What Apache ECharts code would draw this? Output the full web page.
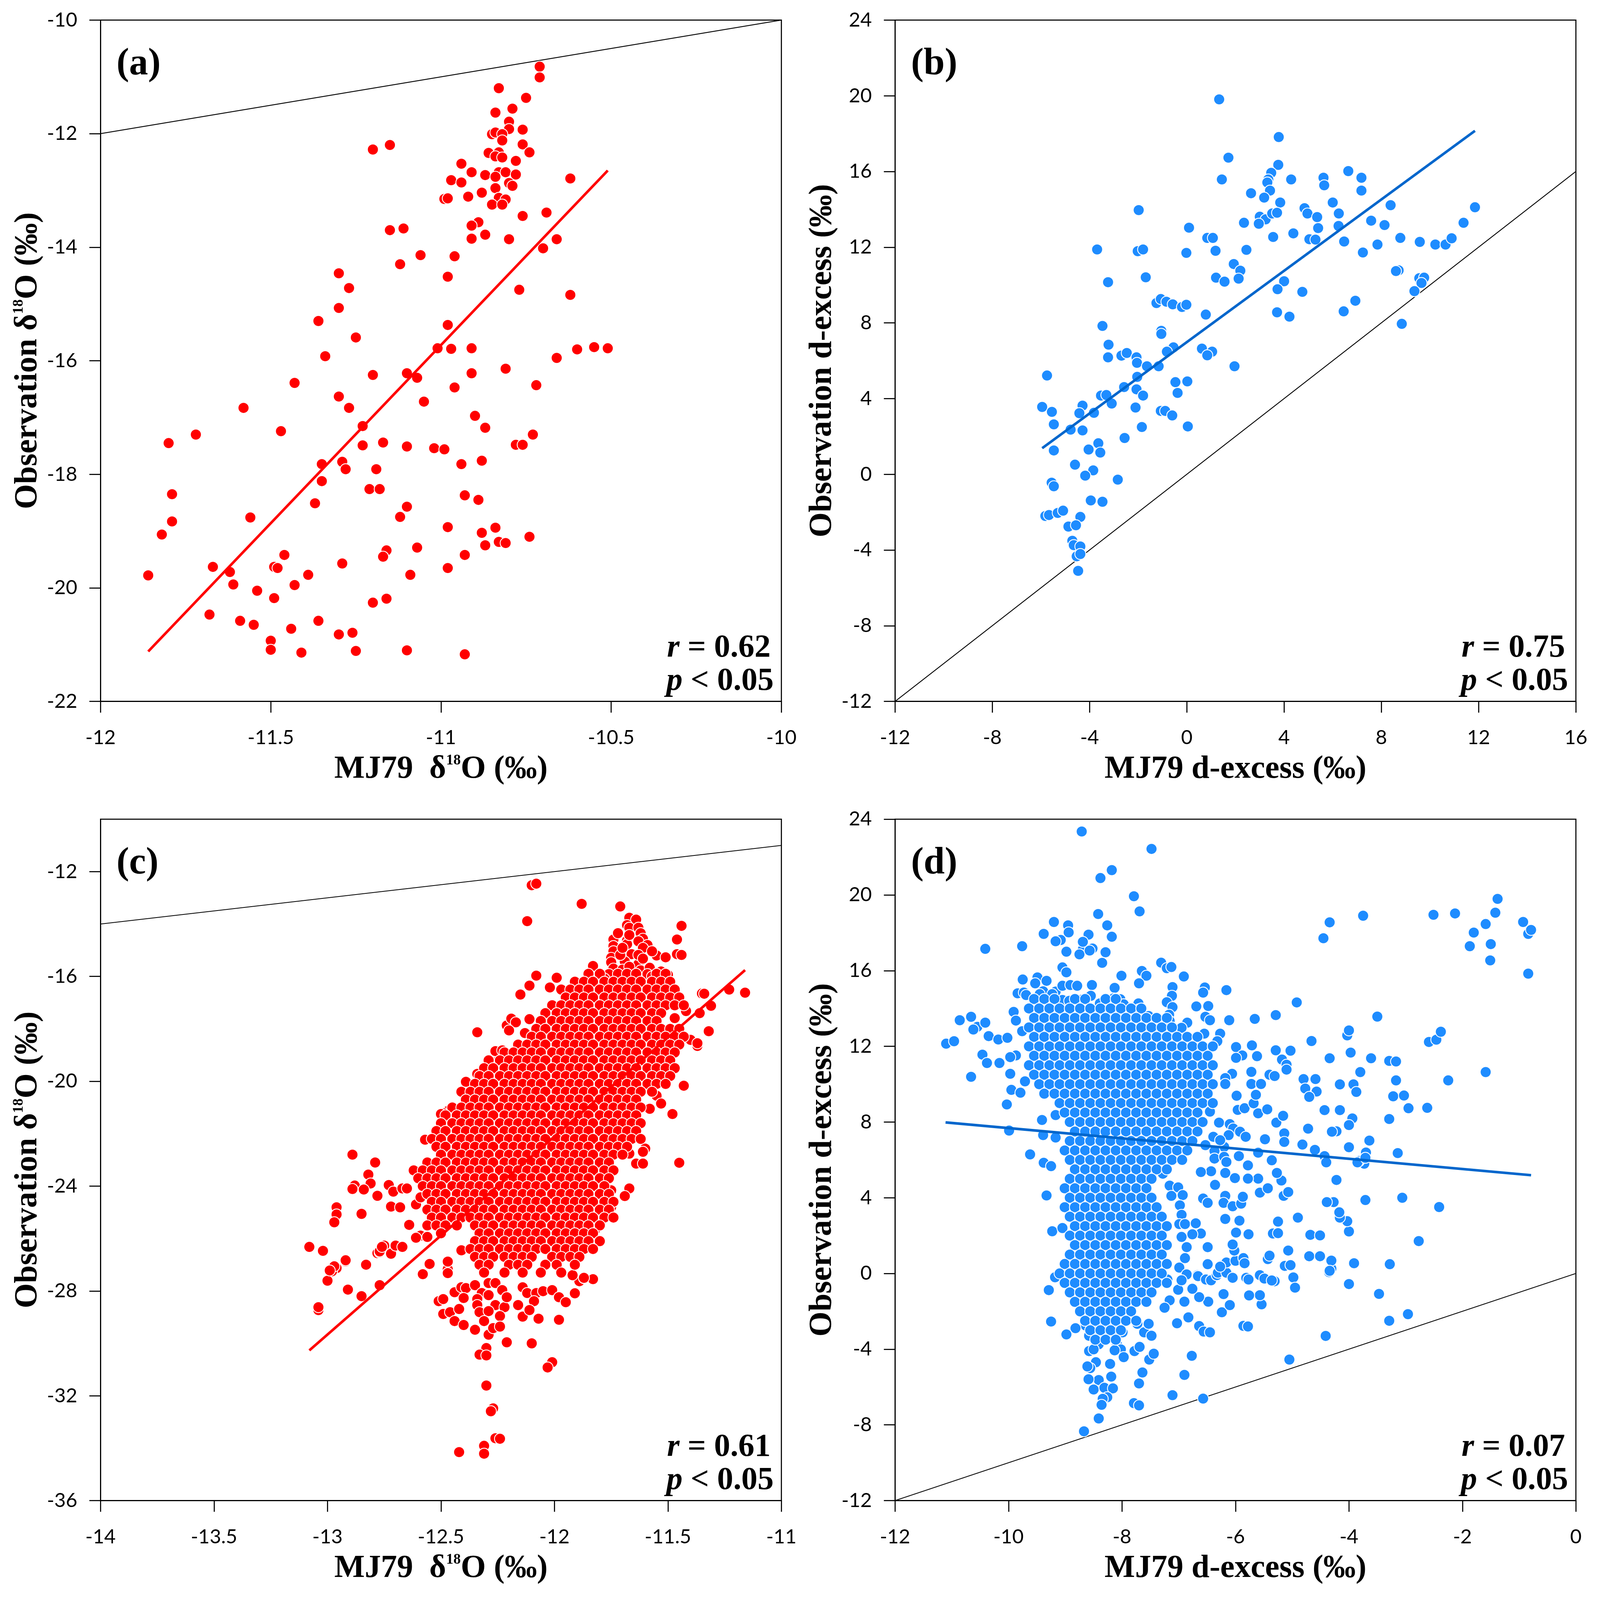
<!DOCTYPE html>
<html><head><meta charset="utf-8">
<script src="https://cdn.jsdelivr.net/npm/echarts@6.0.0/dist/echarts.min.js"></script>
<style>html,body{margin:0;padding:0;background:#fff;overflow:hidden}#main{width:100vw;height:100vh}</style>
</head><body><div id="main"></div>
<script>
// ---------- Panel (a): MJ79 d18O vs observation d18O ----------
const aPts = [[-10.71,-10.82],[-10.71,-11.01],[-10.83,-11.20],[-10.75,-11.37],[-10.79,-11.56],[-10.84,-11.63],[-10.80,-11.79],[-10.80,-11.92],[-10.76,-11.93],[-10.85,-12.01],[-10.84,-11.98],[-10.82,-12.01],[-10.82,-12.12],[-10.76,-12.19],[-10.86,-12.34],[-10.83,-12.33],[-10.84,-12.40],[-10.82,-12.42],[-10.74,-12.33],[-10.78,-12.48],[-10.94,-12.53],[-10.91,-12.68],[-10.87,-12.73],[-10.83,-12.68],[-10.81,-12.68],[-10.78,-12.72],[-10.84,-12.76],[-10.97,-12.82],[-10.94,-12.86],[-10.62,-12.79],[-10.84,-12.96],[-10.80,-12.87],[-10.79,-12.92],[-10.88,-13.04],[-10.92,-13.11],[-10.99,-13.15],[-10.98,-13.14],[-10.83,-13.13],[-10.81,-13.16],[-10.85,-13.25],[-10.82,-13.25],[-10.76,-13.45],[-10.69,-13.39],[-10.89,-13.56],[-10.91,-13.62],[-10.87,-13.78],[-10.91,-13.85],[-10.80,-13.86],[-10.66,-13.86],[-10.70,-14.02],[-11.20,-12.28],[-11.15,-12.20],[-11.15,-13.70],[-11.11,-13.67],[-11.06,-14.14],[-10.96,-14.16],[-11.12,-14.30],[-10.98,-14.52],[-11.30,-14.46],[-11.27,-14.72],[-10.77,-14.75],[-10.62,-14.84],[-11.30,-15.07],[-11.36,-15.30],[-10.98,-15.37],[-11.25,-15.59],[-11.01,-15.78],[-10.97,-15.79],[-10.91,-15.78],[-10.60,-15.80],[-10.55,-15.76],[-10.51,-15.78],[-11.34,-15.92],[-10.66,-15.95],[-10.81,-16.14],[-11.20,-16.25],[-11.10,-16.22],[-11.07,-16.30],[-10.91,-16.22],[-11.43,-16.39],[-10.96,-16.47],[-10.72,-16.43],[-11.30,-16.63],[-11.05,-16.72],[-11.58,-16.83],[-11.27,-16.83],[-10.90,-16.97],[-10.87,-17.18],[-11.23,-17.15],[-11.72,-17.30],[-11.47,-17.24],[-11.80,-17.45],[-11.23,-17.49],[-11.17,-17.44],[-11.10,-17.51],[-11.02,-17.54],[-10.99,-17.56],[-10.78,-17.48],[-10.76,-17.48],[-10.73,-17.30],[-10.88,-17.76],[-10.94,-17.82],[-11.35,-17.82],[-11.29,-17.78],[-11.28,-17.91],[-11.19,-17.91],[-11.35,-18.12],[-11.79,-18.35],[-11.21,-18.26],[-11.18,-18.26],[-10.93,-18.37],[-10.89,-18.45],[-11.37,-18.51],[-11.10,-18.57],[-11.56,-18.76],[-11.12,-18.75],[-11.79,-18.83],[-11.82,-19.06],[-10.98,-18.93],[-10.88,-19.03],[-10.84,-18.94],[-10.83,-19.19],[-10.81,-19.21],[-10.87,-19.25],[-10.74,-19.10],[-11.46,-19.42],[-11.16,-19.34],[-11.17,-19.45],[-11.07,-19.29],[-10.93,-19.42],[-11.67,-19.63],[-11.62,-19.72],[-11.49,-19.63],[-11.48,-19.65],[-11.29,-19.57],[-11.86,-19.78],[-11.39,-19.77],[-11.09,-19.77],[-10.98,-19.65],[-11.61,-19.94],[-11.43,-19.95],[-11.54,-20.05],[-11.49,-20.18],[-11.16,-20.19],[-11.20,-20.26],[-11.68,-20.47],[-11.59,-20.58],[-11.55,-20.65],[-11.36,-20.58],[-11.44,-20.72],[-11.30,-20.82],[-11.26,-20.79],[-11.50,-20.93],[-11.50,-21.09],[-11.41,-21.14],[-11.25,-21.11],[-11.10,-21.10],[-10.93,-21.17]];
const aFit = [[-11.86,-21.12],[-10.51,-12.65]];
const aOne = [[-12,-12],[-10,-10]];

// ---------- Panel (b): d-excess ----------
const bPts = [[1.33,19.81],[3.78,17.82],[1.71,16.73],[3.76,16.35],[1.44,15.58],[3.47,15.93],[3.35,15.58],[3.31,15.42],[3.42,14.99],[4.29,15.58],[5.62,15.67],[5.65,15.27],[6.64,16.02],[7.18,15.67],[7.18,14.99],[2.64,14.85],[3.18,14.62],[3.84,14.36],[6.00,14.36],[4.84,14.06],[4.96,13.78],[5.36,13.59],[6.25,13.78],[8.38,14.22],[11.85,14.11],[3.00,13.61],[3.24,13.47],[2.96,13.24],[3.51,13.78],[3.71,13.82],[2.35,13.29],[5.40,13.01],[6.24,13.12],[7.58,13.40],[8.13,13.17],[11.38,13.29],[-1.98,13.96],[0.09,13.03],[3.55,12.54],[4.38,12.73],[5.04,12.42],[5.29,12.40],[6.47,12.30],[7.24,11.72],[7.84,12.14],[8.78,12.49],[9.58,12.28],[10.22,12.14],[10.64,12.14],[10.89,12.47],[0.84,12.49],[1.07,12.49],[1.18,11.81],[2.45,11.86],[-3.69,11.88],[-2.02,11.79],[-1.80,11.88],[-0.02,11.70],[1.93,11.11],[2.20,10.76],[2.13,10.34],[1.20,10.39],[1.55,10.18],[-1.69,10.41],[-3.24,10.15],[8.71,10.78],[8.60,10.74],[9.56,10.36],[9.76,10.39],[9.65,10.11],[4.00,10.20],[3.73,9.78],[4.75,9.64],[9.36,9.68],[6.93,9.17],[6.45,8.61],[3.71,8.56],[4.22,8.33],[8.84,7.95],[-1.25,9.05],[-1.07,9.26],[-0.84,9.12],[-0.58,8.98],[-0.20,8.84],[-0.02,8.96],[0.78,8.44],[-3.47,7.84],[-1.05,7.58],[-1.05,7.42],[-3.22,6.85],[-0.55,6.71],[-0.82,6.48],[0.62,6.64],[1.04,6.48],[0.84,6.29],[-3.24,6.18],[-2.69,6.27],[-2.47,6.41],[-2.07,6.18],[-2.05,5.89],[-1.64,5.71],[-1.16,5.71],[1.96,5.71],[-5.75,5.22],[-2.04,5.15],[-2.58,4.61],[-2.07,4.49],[-0.47,4.87],[0.02,4.91],[-0.38,4.30],[-3.53,4.16],[-3.31,4.19],[-1.80,4.16],[-3.09,3.74],[-5.95,3.56],[-5.55,3.30],[-4.29,3.63],[-4.42,3.23],[-3.82,3.25],[-2.11,3.53],[-1.07,3.35],[-0.89,3.35],[-0.60,3.11],[-5.47,2.64],[-4.78,2.36],[-4.29,2.32],[-1.85,2.50],[0.04,2.53],[-2.56,1.92],[-3.64,1.64],[-5.47,1.26],[-4.04,1.31],[-3.56,1.15],[-4.60,0.51],[-3.85,0.21],[-4.18,-0.07],[-2.84,-0.28],[-5.56,-0.44],[-5.47,-0.63],[-3.95,-1.38],[-3.47,-1.45],[-5.82,-2.20],[-5.67,-2.15],[-5.31,-2.04],[-5.09,-1.92],[-4.38,-2.25],[-4.87,-2.76],[-4.56,-2.69],[-4.71,-3.51],[-4.65,-3.74],[-4.38,-3.81],[-4.53,-4.33],[-4.38,-4.21],[-4.47,-5.10]];
const bFit = [[-5.95,1.38],[11.85,18.15]];
const bOne = [[-12,-12],[16,16]];

// ---------- Panel (c): d18O, individual points ----------
const cPts = [[-12.10,-12.52],[-12.08,-12.46],[-11.88,-13.23],[-11.71,-13.33],[-12.12,-13.89],
[-11.67,-13.76],[-11.64,-13.83],[-11.68,-14.04],[-11.67,-14.14],[-11.63,-14.14],[-11.62,-14.35],[-11.61,-14.56],[-11.74,-14.59],[-11.68,-14.63],[-11.63,-14.66],[-11.59,-14.80],[-11.68,-14.77],[-11.74,-14.84],[-11.61,-14.91],[-11.74,-15.04],[-11.66,-15.15],[-11.75,-15.29],[-11.69,-15.43],[-11.55,-15.20],[-11.51,-15.27],[-11.75,-15.46],[-11.63,-15.53],[-11.74,-15.70],[-11.70,-15.74],[-11.62,-15.77],[-11.58,-15.67],[-11.59,-15.91],[-11.53,-15.81],[-11.50,-15.94],[-11.56,-16.26],[-11.63,-16.15],[-11.56,-15.98],[-11.67,-16.05],[-11.72,-15.95],[-11.76,-15.91],[-11.68,-16.29],[-11.74,-16.43],[-11.79,-16.46],[-11.84,-16.53],[-11.80,-16.22],[-11.78,-16.08],
[-11.72,-14.35],[-11.67,-14.42],[-11.57,-15.04],[-11.63,-15.18],[-11.71,-15.18],[-11.67,-15.63],[-11.61,-15.32],[-11.70,-14.91],[-11.55,-16.15],[-11.61,-16.36],[-11.65,-16.50],[-11.70,-16.57],[-11.58,-16.53],[-11.52,-16.36],[-11.49,-16.57],[-11.53,-16.91],
[-11.44,-14.07],[-11.46,-14.59],[-11.46,-15.15],[-11.44,-15.18],[-11.35,-16.65],[-11.23,-16.50],[-11.16,-16.62],[-11.31,-17.12],[-11.36,-17.40],[-11.32,-18.11],[-11.47,-17.59],[-11.43,-20.17],[-11.37,-18.65],[-11.40,-18.42],[-11.45,-18.20],[-11.42,-17.32],[-11.34,-16.66],[-11.32,-18.09],[-11.37,-18.55],[-11.48,-21.25],[-11.45,-23.11],[-11.60,-22.57],[-11.61,-22.69],[-11.67,-24.09],[-11.69,-24.38],[-11.64,-23.14],[-11.61,-23.14],[-11.67,-22.76],[-11.57,-16.00],[-11.51,-16.10],[-11.59,-16.32],[-11.55,-20.55],[-11.53,-20.85],[-11.58,-21.05],
[-12.34,-18.13],[-12.21,-17.87],[-12.19,-17.61],[-12.17,-17.75],[-12.20,-18.06],[-12.11,-17.63],[-12.13,-18.16],[-12.08,-18.22],[-12.07,-18.01],[-12.08,-15.97],[-11.99,-16.05],[-12.11,-16.35],[-12.02,-16.42],[-12.15,-16.69],[-11.83,-15.60],[-12.39,-20.02],[-12.34,-19.72],[-12.31,-19.86],[-12.34,-20.24],[-12.26,-18.85],[-12.23,-18.82],[-12.26,-19.28],[-12.47,-21.14],[-12.49,-21.22],[-12.44,-21.49],[-12.38,-21.24],[-12.50,-21.25],[-12.57,-22.23],
[-12.89,-22.80],[-12.79,-23.10],[-12.82,-23.56],[-12.81,-23.90],[-12.88,-23.98],[-12.89,-24.11],[-12.84,-24.13],[-12.78,-24.37],[-12.73,-23.96],[-12.71,-24.21],[-12.67,-24.09],[-12.65,-24.09],[-12.96,-24.81],[-12.96,-25.08],[-12.97,-25.38],[-12.85,-25.06],[-12.72,-24.78],[-12.68,-24.81],[-12.64,-25.48],[-13.08,-26.32],[-13.02,-26.47],[-12.92,-26.87],[-12.96,-27.13],[-12.98,-27.25],[-13.00,-27.61],[-12.83,-27.00],[-12.91,-27.95],[-12.85,-28.20],[-12.77,-27.78],[-12.78,-26.56],[-12.77,-26.53],[-12.75,-26.27],[-12.72,-26.58],[-12.70,-26.27],[-12.67,-26.32],[-13.04,-28.73],[-13.04,-28.62],[-12.61,-24.70],[-12.59,-24.43],[-12.59,-25.89],[-12.56,-25.94],[-12.61,-25.97],[-12.55,-26.97],[-12.58,-27.36],[-12.47,-26.91],[-12.47,-27.17],[-12.47,-27.32],[-12.41,-26.45],[-12.92,-26.83],[-12.97,-27.06],[-12.99,-27.22],[-12.77,-26.49],[-12.76,-26.32],[-12.47,-26.88],
[-12.44,-28.05],[-12.41,-27.86],[-12.39,-27.89],[-12.35,-27.78],[-12.32,-28.08],[-12.29,-27.70],[-12.26,-27.70],[-12.23,-27.97],[-12.14,-27.86],[-12.12,-28.08],[-12.08,-28.08],[-12.05,-28.01],[-12.01,-27.97],[-11.91,-28.12],[-11.89,-27.63],[-11.87,-27.51],[-11.83,-27.55],[-11.92,-27.40],[-12.51,-28.39],[-12.49,-28.31],[-12.40,-28.27],[-12.34,-28.31],[-12.34,-28.54],[-12.29,-28.16],[-12.26,-28.54],[-12.22,-28.62],[-12.21,-28.24],[-12.16,-28.54],[-12.09,-28.39],[-11.98,-28.24],[-11.95,-28.43],[-12.49,-28.88],[-12.46,-28.81],[-12.42,-28.69],[-12.33,-28.81],[-12.29,-28.77],[-12.24,-28.96],[-12.14,-28.98],[-12.11,-28.73],[-12.07,-29.06],[-11.98,-29.10],[-12.44,-29.15],[-12.40,-29.30],[-12.35,-29.48],[-12.31,-29.15],[-12.29,-29.67],[-12.27,-29.42],[-12.24,-29.36],[-12.21,-29.96],[-12.10,-30.00],[-12.30,-30.18],[-12.33,-30.43],[-12.30,-30.46],[-12.01,-30.72],[-12.03,-30.92],[-12.30,-31.61],[-12.27,-32.48],[-12.28,-32.59],[-12.26,-33.62],[-12.24,-33.64],[-12.31,-33.91],[-12.31,-34.21],[-12.42,-34.15],
[-11.91,-28.09],[-11.87,-27.50],[-11.82,-25.65],[-11.76,-25.05],[-11.75,-24.80],[-11.75,-24.16]];
// Panel (c) saturated core, read row by row: [y, [x values along the row]]
const cRows = [
[-15.9,[-11.85,-11.80,-11.72,-11.68,-11.64,-11.55,-11.51]],
[-16.2,[-11.91,-11.87,-11.83,-11.78,-11.74,-11.70,-11.66,-11.62,-11.57,-11.53,-11.49]],
[-16.5,[-11.97,-11.93,-11.89,-11.85,-11.80,-11.76,-11.72,-11.68,-11.64,-11.59,-11.55,-11.51,-11.47]],
[-16.8,[-11.95,-11.91,-11.87,-11.83,-11.78,-11.74,-11.70,-11.66,-11.62,-11.57,-11.53,-11.49,-11.45]],
[-17.1,[-12.01,-11.97,-11.93,-11.89,-11.85,-11.80,-11.76,-11.72,-11.68,-11.64,-11.59,-11.55,-11.51,-11.47,-11.43]],
[-17.4,[-12.04,-11.99,-11.95,-11.91,-11.87,-11.83,-11.78,-11.74,-11.70,-11.66,-11.62,-11.57,-11.53]],
[-17.7,[-12.06,-12.01,-11.97,-11.93,-11.89,-11.85,-11.80,-11.76,-11.72,-11.68,-11.64,-11.59,-11.55]],
[-18.0,[-12.08,-12.04,-11.99,-11.95,-11.91,-11.87,-11.83,-11.78,-11.74,-11.70,-11.66,-11.62,-11.57,-11.53,-11.49,-11.45]],
[-18.3,[-12.10,-12.06,-12.01,-11.97,-11.93,-11.89,-11.85,-11.80,-11.76,-11.72,-11.68,-11.64,-11.59,-11.55,-11.51,-11.47,-11.43]],
[-18.6,[-12.16,-12.12,-12.08,-12.04,-11.99,-11.95,-11.91,-11.87,-11.83,-11.78,-11.74,-11.70,-11.66,-11.62,-11.57,-11.53,-11.49,-11.45]],
[-18.9,[-12.22,-12.18,-12.14,-12.10,-12.06,-12.01,-11.97,-11.93,-11.89,-11.85,-11.80,-11.76,-11.72,-11.68,-11.64,-11.59,-11.55,-11.51,-11.47]],
[-19.2,[-12.29,-12.24,-12.20,-12.16,-12.12,-12.08,-12.04,-11.99,-11.95,-11.91,-11.87,-11.83,-11.78,-11.74,-11.70,-11.66,-11.62,-11.57,-11.53,-11.49]],
[-19.5,[-12.31,-12.27,-12.22,-12.18,-12.14,-12.10,-12.06,-12.01,-11.97,-11.93,-11.89,-11.85,-11.80,-11.76,-11.72,-11.68,-11.64,-11.59,-11.55,-11.51,-11.47]],
[-19.8,[-12.33,-12.29,-12.24,-12.20,-12.16,-12.12,-12.08,-12.04,-11.99,-11.95,-11.91,-11.87,-11.83,-11.78,-11.74,-11.70,-11.66,-11.62,-11.57,-11.53,-11.49]],
[-20.1,[-12.35,-12.31,-12.27,-12.22,-12.18,-12.14,-12.10,-12.06,-12.01,-11.97,-11.93,-11.89,-11.85,-11.80,-11.76,-11.72,-11.68,-11.64,-11.59,-11.55,-11.51]],
[-20.4,[-12.41,-12.37,-12.33,-12.29,-12.24,-12.20,-12.16,-12.12,-12.08,-12.04,-11.99,-11.95,-11.91,-11.87,-11.83,-11.78,-11.74,-11.70,-11.66,-11.62,-11.57]],
[-20.7,[-12.39,-12.35,-12.31,-12.27,-12.22,-12.18,-12.14,-12.10,-12.06,-12.01,-11.97,-11.93,-11.89,-11.85,-11.80,-11.76,-11.72,-11.68,-11.64]],
[-21.0,[-12.45,-12.41,-12.37,-12.33,-12.29,-12.24,-12.20,-12.16,-12.12,-12.08,-12.04,-11.99,-11.95,-11.91,-11.87,-11.83,-11.78,-11.74,-11.70,-11.66,-11.62]],
[-21.3,[-12.48,-12.43,-12.39,-12.35,-12.31,-12.27,-12.22,-12.18,-12.14,-12.10,-12.06,-12.01,-11.97,-11.93,-11.89,-11.85,-11.80,-11.76,-11.72,-11.68,-11.64]],
[-21.6,[-12.50,-12.45,-12.41,-12.37,-12.33,-12.29,-12.24,-12.20,-12.16,-12.12,-12.08,-12.04,-11.99,-11.95,-11.91,-11.87,-11.83,-11.78,-11.74,-11.70,-11.66,-11.62]],
[-21.9,[-12.52,-12.48,-12.43,-12.39,-12.35,-12.31,-12.27,-12.22,-12.18,-12.14,-12.10,-12.06,-12.01,-11.97,-11.93,-11.89,-11.85,-11.80,-11.76,-11.72,-11.68,-11.64]],
[-22.2,[-12.54,-12.50,-12.45,-12.41,-12.37,-12.33,-12.29,-12.24,-12.20,-12.16,-12.12,-12.08,-12.04,-11.99,-11.95,-11.91,-11.87,-11.83,-11.78,-11.74,-11.70,-11.66,-11.62]],
[-22.5,[-12.52,-12.48,-12.43,-12.39,-12.35,-12.31,-12.27,-12.22,-12.18,-12.14,-12.10,-12.06,-12.01,-11.97,-11.93,-11.89,-11.85,-11.80,-11.76,-11.72,-11.68]],
[-22.8,[-12.50,-12.45,-12.41,-12.37,-12.33,-12.29,-12.24,-12.20,-12.16,-12.12,-12.08,-12.04,-11.99,-11.95,-11.91,-11.87,-11.83,-11.78,-11.74,-11.70]],
[-23.1,[-12.56,-12.52,-12.48,-12.43,-12.39,-12.35,-12.31,-12.27,-12.22,-12.18,-12.14,-12.10,-12.06,-12.01,-11.97,-11.93,-11.89,-11.85,-11.80,-11.76]],
[-23.4,[-12.62,-12.58,-12.54,-12.50,-12.45,-12.41,-12.37,-12.33,-12.29,-12.24,-12.20,-12.16,-12.12,-12.08,-12.04,-11.99,-11.95,-11.91,-11.87,-11.83,-11.78,-11.74]],
[-23.7,[-12.60,-12.56,-12.52,-12.48,-12.43,-12.39,-12.35,-12.31,-12.27,-12.22,-12.18,-12.14,-12.10,-12.06,-12.01,-11.97,-11.93,-11.89,-11.85,-11.80,-11.76]],
[-24.0,[-12.58,-12.54,-12.50,-12.45,-12.41,-12.37,-12.33,-12.29,-12.24,-12.20,-12.16,-12.12,-12.08,-12.04,-11.99,-11.95,-11.91,-11.87,-11.83,-11.78]],
[-24.3,[-12.56,-12.52,-12.48,-12.43,-12.39,-12.35,-12.31,-12.27,-12.22,-12.18,-12.14,-12.10,-12.06,-12.01,-11.97,-11.93,-11.89,-11.85,-11.80,-11.76]],
[-24.6,[-12.54,-12.50,-12.45,-12.41,-12.37,-12.33,-12.29,-12.24,-12.20,-12.16,-12.12,-12.08,-12.04,-11.99,-11.95,-11.91,-11.87,-11.83,-11.78,-11.74]],
[-24.9,[-12.56,-12.52,-12.48,-12.43,-12.39,-12.35,-12.31,-12.27,-12.22,-12.18,-12.14,-12.10,-12.06,-12.01,-11.97,-11.93,-11.89,-11.85,-11.80,-11.76]],
[-25.2,[-12.54,-12.50,-12.45,-12.41,-12.37,-12.33,-12.29,-12.24,-12.20,-12.16,-12.12,-12.08,-12.04,-11.99,-11.95,-11.91,-11.87,-11.83,-11.78,-11.74]],
[-25.5,[-12.56,-12.52,-12.48,-12.43,-12.35,-12.31,-12.27,-12.22,-12.18,-12.14,-12.10,-12.06,-12.01,-11.97,-11.93,-11.89,-11.85,-11.80]],
[-25.8,[-12.50,-12.33,-12.29,-12.24,-12.20,-12.16,-12.12,-12.08,-12.04,-11.99,-11.95,-11.91,-11.87,-11.83]],
[-26.1,[-12.35,-12.31,-12.27,-12.22,-12.18,-12.14,-12.10,-12.06,-12.01,-11.97,-11.93,-11.89,-11.85,-11.80]],
[-26.4,[-12.37,-12.33,-12.29,-12.24,-12.20,-12.16,-12.12,-12.08,-12.04,-11.99,-11.95,-11.91,-11.87,-11.83]],
[-26.7,[-12.35,-12.31,-12.27,-12.22,-12.18,-12.14,-12.10,-12.01,-11.97,-11.93,-11.89]],
[-27.0,[-12.33,-12.29,-12.20,-12.16,-12.12,-12.04,-11.99,-11.91]],
[-27.3,[-12.31,-12.22,-12.14,-12.06,-11.97]]];
const cFit = [[-13.08,-30.27],[-11.16,-15.76]];
const cOne = [[-14,-14],[-11,-11]];

// ---------- Panel (d): d-excess, individual points ----------
const dPts = [[-8.71,23.35],[-7.48,22.43],[-8.38,20.89],[-8.18,21.31],[-7.79,19.93],[-7.69,19.13],[-8.42,18.99],[-10.41,17.15],[-9.76,17.29],[-9.38,17.94],[-9.20,18.57],[-8.95,18.39],[-8.94,18.02],[-8.26,18.39],[-9.08,17.62],[-9.17,17.55],[-8.59,17.90],[-8.18,17.79],[-8.69,17.12],[-8.52,17.17],[-8.75,16.86],[-8.98,17.00],[-8.57,17.06],[-8.29,16.97],[-8.35,16.41],[-9.05,16.17],[-8.98,15.91],[-7.31,16.42],[-7.21,16.13],[-7.13,16.19],[-8.01,15.73],[-7.65,15.98],[-7.57,15.73],[-7.70,15.33],[-6.91,15.69],[-7.11,15.13],[-7.12,14.67],[-7.21,14.33],[-7.11,14.07],[-6.54,15.11],[-6.57,14.84],[-6.16,14.97],[-6.69,14.11],[-6.48,14.13],[-6.53,13.56],[-6.45,13.38],[-6.11,13.38],[-5.66,13.45],[-5.29,13.65],[-7.17,13.67],[-7.16,13.34],[-6.85,13.25],[-6.95,12.98],[-6.27,12.67],[-6.32,12.27],[-6.55,12.67],[-8.69,17.52],
[-5.99,11.96],[-5.88,11.52],[-5.99,11.39],[-5.71,12.05],[-5.62,11.48],[-5.29,11.79],[-5.18,11.30],[-5.10,11.03],[-6.06,10.55],[-6.18,10.32],[-6.18,10.01],[-5.72,10.65],[-5.72,10.01],[-5.55,10.01],[-5.40,10.50],[-5.31,10.43],[-5.10,10.77],[-5.98,9.39],[-5.96,8.64],[-5.84,8.73],[-5.68,8.99],[-5.60,8.46],[-5.44,8.67],[-5.64,9.44],[-6.29,7.97],[-6.10,7.89],[-6.04,7.66],[-5.92,7.49],[-5.82,7.22],[-6.12,7.31],[-6.20,6.69],[-6.40,8.97],[-6.45,8.55],[-6.39,7.22],[-6.27,7.04],[-6.37,6.47],[-6.37,6.07],[-6.53,6.78],[-6.20,6.16],[-6.16,5.89],[-5.94,6.20],[-5.78,5.71],[-5.60,6.38],[-5.48,7.09],[-5.36,5.98],[-5.28,7.97],[-5.16,8.33],[-5.14,7.40],[-5.14,6.95],
[-4.45,17.71],[-4.34,18.55],[-3.75,18.90],[-2.51,18.95],[-2.13,19.02],[-1.38,19.79],[-1.42,19.06],[-1.59,18.46],[-1.80,18.01],[-1.87,17.29],[-1.50,17.40],[-1.51,16.54],[-0.93,18.57],[-0.84,17.94],[-0.79,18.15],[-0.84,15.84],
[-10.86,13.38],[-10.66,13.56],[-10.55,13.03],[-10.62,12.89],[-10.41,13.25],[-10.35,12.54],[-11.10,12.14],[-10.96,12.27],[-10.18,12.36],[-10.02,12.45],[-9.87,11.52],[-9.97,11.43],[-10.46,11.56],[-10.38,11.12],[-10.16,11.12],[-10.66,10.39],[-9.97,10.55],[-9.71,10.15],[-9.95,9.70],[-9.79,9.55],[-10.03,8.93],[-9.41,8.11],[-9.17,8.37],[-9.99,7.55],[-9.39,7.31],[-9.17,7.18],[-9.62,6.29],[-9.38,5.85],[-9.25,5.67],[-9.75,15.53],[-9.84,14.80],[-9.73,14.84],[-9.91,13.82],[-9.87,13.36],[-9.76,12.80],
[-9.49,15.64],[-9.53,15.33],[-9.33,15.46],[-9.39,14.91],[-9.17,14.89],[-9.05,15.20],[-8.91,15.24],[-8.79,15.20],[-8.53,15.24],[-8.13,15.09],[-9.69,14.71],[-9.45,14.76],[-9.23,14.76],[-9.05,14.45],[-8.93,14.40],[-8.79,14.49],[-8.69,14.49],[-8.55,14.67],[-8.39,14.27],[-8.29,14.53],[-8.15,14.53],[-8.03,14.49],[-7.97,14.22],[-7.71,14.27],[-7.70,13.96],[-7.53,13.60],
[-9.33,4.12],[-9.23,2.23],[-9.05,2.40],[-9.18,-0.20],[-9.29,-0.88],[-9.25,-2.54],
[-8.64,-2.75],[-8.55,-3.11],[-8.52,-2.71],[-8.40,-2.93],[-8.32,-2.80],[-8.22,-2.80],[-8.11,-2.98],[-7.99,-3.11],[-7.73,-2.66],[-7.61,-3.11],[-7.53,-2.66],[-7.48,-3.29],[-8.82,-2.89],[-8.98,-3.22],[-8.58,-3.29],[-8.46,-3.67],[-8.41,-3.74],[-8.09,-3.74],[-8.02,-4.01],[-7.97,-4.42],[-8.13,-4.06],[-7.78,-4.10],[-7.69,-3.88],[-7.52,-4.55],[-7.44,-4.24],[-8.58,-4.10],[-8.50,-4.01],[-8.46,-4.69],[-8.56,-5.00],[-8.61,-4.91],[-8.21,-4.78],[-7.64,-5.23],[-7.70,-5.81],[-8.41,-5.63],[-8.59,-5.59],[-8.50,-6.13],[-8.31,-6.04],[-8.19,-5.45],[-8.16,-6.07],[-8.26,-6.54],[-8.34,-6.62],[-8.36,-6.94],[-8.41,-7.66],[-8.67,-8.34],[-7.79,-6.85],[-7.70,-6.97],[-7.11,-6.43],[-6.57,-6.61],[-6.90,-5.36],[-6.77,-4.35],[-7.03,-2.63],[-6.83,-2.32],[-6.64,-2.78],[-6.56,-3.07],[-6.45,-3.11],[-6.24,-2.05],[-6.10,-1.67],[-6.21,-1.09],[-5.86,-2.77],[-5.78,-2.80],[-5.54,-1.63],[-5.57,-1.15],[-5.76,-1.16],[-6.48,-1.49],[-6.64,-1.25],[-6.76,-0.81],[-6.90,-1.49],[-7.01,-0.86],[-7.16,-1.42],[-7.25,-1.81],[-5.05,-4.55],
[-7.28,5.27],[-7.16,4.64],[-7.13,4.10],[-7.01,4.55],[-6.93,4.14],[-6.98,3.60],[-6.95,3.10],[-6.99,2.61],[-6.89,2.61],[-6.70,2.65],[-6.61,2.11],[-6.76,2.07],[-6.95,1.93],[-6.86,1.39],[-6.89,0.81],[-6.99,0.31],[-6.86,-0.05],[-6.95,-0.36],[-7.20,-0.32],[-6.67,-0.09],[-6.66,-0.14],[-6.52,-0.32],[-6.43,-0.36],[-6.49,0.49],[-6.33,-0.09],[-6.31,0.04],[-6.16,0.04],[-6.05,-0.23],[-6.16,0.58],[-6.27,0.36],[-6.00,0.67],[-5.86,0.81],[-5.84,0.54],[-6.02,1.21],[-6.05,1.53],[-5.81,-0.23],[-5.77,-0.32],[-5.57,-0.09],[-5.49,-0.27],[-5.31,-0.41],[-5.43,0.76],[-5.40,0.94],[-5.13,0.40],[-5.07,1.21],[-5.34,2.11],[-5.25,2.74],[-5.77,2.07],[-5.99,2.16],[-6.18,2.88],[-5.93,2.79],[-6.18,4.10],[-6.21,3.73],[-6.05,3.55],[-5.90,3.69],[-5.87,4.05],[-6.36,4.68],[-6.57,3.96],[-6.49,3.73],[-5.57,4.27],[-5.43,4.50],[-5.15,4.10],[-5.19,4.91],[-5.27,5.31],[-5.60,5.01],[-5.78,5.01],[-6.01,5.04],[-6.18,5.31],[-6.43,5.40],[-6.61,5.36],[-6.49,1.39],
[-4.92,14.32],[-5.03,11.77],[-4.66,12.28],[-3.50,13.57],[-4.03,12.58],[-4.00,12.84],[-4.34,11.37],[-3.97,11.67],[-3.61,11.37],[-3.29,11.23],[-3.17,11.20],[-3.17,10.20],[-3.22,9.36],[-3.03,9.40],[-2.95,8.73],[-2.62,8.75],[-2.59,12.23],[-2.46,12.35],[-2.38,12.77],[-2.25,10.20],[-1.59,10.64],[-3.29,8.16],[-3.14,6.36],[-3.64,7.02],[-3.70,6.39],[-3.73,5.80],[-3.71,3.88],[-3.06,4.00],[-2.41,3.51],[-2.77,1.71],[-3.28,0.49],[-3.47,-1.08],[-3.29,-2.50],[-2.96,-2.15],[-4.41,-3.30],[-4.00,2.22],[-4.03,2.76],[-3.91,0.54],[-4.00,-0.56],[-4.16,2.95],[-4.17,3.23],[-4.31,0.26],[-4.35,0.07],[-4.27,3.77],[-4.00,6.67],[-3.82,5.94],[-3.85,5.87],[-3.71,6.11],[-4.22,7.51],[-4.30,7.49],[-3.94,8.19],[-4.00,7.84],[-4.16,8.63],[-4.16,9.99],[-3.80,10.64],[-3.92,9.99],[-3.87,9.59],[-4.80,10.27],[-4.77,9.77],[-4.59,10.27],[-4.57,9.61],[-4.70,9.33],[-4.43,8.63],[-4.72,7.65],[-4.82,6.81],[-4.60,6.53],[-4.43,6.20],[-4.40,5.87],[-4.22,4.94],[-4.39,3.77],[-4.90,2.95],[-4.68,2.04],[-4.51,2.01],[-4.70,0.91],[-4.51,0.91],[-4.31,0.68],[-4.34,0.14],[-5.03,0.44],[-4.98,-0.21],[-4.95,-0.75],[-5.07,4.30],[-5.25,2.13],[-5.36,-0.37]];
// Panel (d) dense column, read row by row: [y, [x values along the row]]
const dRows = [
[14.5,[-9.55,-9.37,-9.19,-8.83,-8.65,-8.29,-8.11]],
[14.0,[-9.64,-9.46,-9.28,-9.10,-8.92,-8.74,-8.56,-8.38,-8.20,-8.02,-7.84,-7.66]],
[13.5,[-9.55,-9.37,-9.19,-9.01,-8.83,-8.65,-8.47,-8.29,-8.11,-7.93,-7.75,-7.57,-7.39,-7.21]],
[13.0,[-9.64,-9.46,-9.28,-9.10,-8.92,-8.74,-8.56,-8.38,-8.20,-8.02,-7.84,-7.66,-7.48,-7.30,-7.12]],
[12.5,[-9.55,-9.37,-9.19,-9.01,-8.83,-8.65,-8.47,-8.29,-8.11,-7.93,-7.75,-7.57,-7.39,-7.21,-7.03,-6.85,-6.67]],
[12.0,[-9.64,-9.46,-9.28,-9.10,-8.92,-8.74,-8.56,-8.38,-8.20,-8.02,-7.84,-7.66,-7.48,-7.30,-7.12,-6.94,-6.76,-6.58,-6.40]],
[11.5,[-9.55,-9.37,-9.19,-9.01,-8.83,-8.65,-8.47,-8.29,-8.11,-7.93,-7.75,-7.57,-7.39,-7.21,-7.03,-6.85,-6.67,-6.49]],
[11.0,[-9.64,-9.46,-9.28,-9.10,-8.92,-8.74,-8.56,-8.38,-8.20,-8.02,-7.84,-7.66,-7.48,-7.30,-7.12,-6.94,-6.76,-6.58,-6.40]],
[10.5,[-9.55,-9.37,-9.19,-9.01,-8.83,-8.65,-8.47,-8.29,-8.11,-7.93,-7.75,-7.57,-7.39,-7.21,-7.03,-6.85,-6.67,-6.49]],
[10.0,[-9.46,-9.28,-9.10,-8.92,-8.74,-8.56,-8.38,-8.20,-8.02,-7.84,-7.66,-7.48,-7.30,-7.12,-6.94,-6.76,-6.58,-6.40]],
[9.5,[-9.37,-9.19,-9.01,-8.83,-8.65,-8.47,-8.29,-8.11,-7.93,-7.75,-7.57,-7.39,-7.21,-7.03,-6.85,-6.67,-6.49]],
[9.0,[-9.10,-8.92,-8.74,-8.56,-8.38,-8.20,-8.02,-7.84,-7.66,-7.48,-7.30,-7.12,-6.94,-6.76,-6.58,-6.40]],
[8.5,[-9.01,-8.83,-8.65,-8.47,-8.29,-8.11,-7.93,-7.75,-7.57,-7.39,-7.21,-7.03,-6.85,-6.67]],
[8.0,[-8.92,-8.74,-8.56,-8.38,-8.20,-8.02,-7.84,-7.66,-7.48,-7.30,-7.12,-6.94,-6.76,-6.58]],
[7.5,[-8.83,-8.65,-8.47,-8.29,-8.11,-7.93,-7.75,-7.57,-7.39,-7.21,-7.03,-6.85,-6.67]],
[7.0,[-8.92,-8.74,-8.56,-8.38,-8.20,-8.02,-7.84,-7.66,-7.48,-7.30,-7.12,-6.94,-6.76]],
[6.5,[-9.01,-8.83,-8.65,-8.47,-8.29,-8.11,-7.93,-7.75,-7.57,-7.39,-7.21,-7.03,-6.85]],
[6.0,[-8.92,-8.74,-8.56,-8.38,-8.20,-8.02,-7.84,-7.66,-7.48,-7.30,-7.12,-6.94]],
[5.5,[-8.83,-8.65,-8.47,-8.29,-8.11,-7.93,-7.75,-7.57,-7.39,-7.21]],
[5.0,[-8.92,-8.74,-8.56,-8.38,-8.20,-8.02,-7.84,-7.66,-7.48]],
[4.5,[-9.01,-8.83,-8.65,-8.47,-8.29,-8.11,-7.93,-7.75,-7.57]],
[4.0,[-8.92,-8.74,-8.56,-8.38,-8.20,-8.02,-7.84,-7.66,-7.48]],
[3.5,[-9.01,-8.83,-8.65,-8.47,-8.29,-8.11,-7.93,-7.75,-7.57,-7.39]],
[3.0,[-8.92,-8.74,-8.56,-8.38,-8.20,-8.02,-7.84,-7.66,-7.48,-7.30]],
[2.5,[-8.83,-8.65,-8.47,-8.29,-8.11,-7.93,-7.75,-7.57,-7.39,-7.21]],
[2.0,[-8.92,-8.74,-8.56,-8.38,-8.20,-8.02,-7.84,-7.66,-7.48,-7.30]],
[1.5,[-8.83,-8.65,-8.47,-8.29,-8.11,-7.93,-7.75,-7.57,-7.39,-7.21]],
[1.0,[-8.92,-8.74,-8.56,-8.38,-8.20,-8.02,-7.84,-7.66,-7.48,-7.30]],
[0.5,[-9.01,-8.83,-8.65,-8.47,-8.29,-8.11,-7.93,-7.75,-7.57,-7.39,-7.21]],
[0.0,[-9.10,-8.92,-8.74,-8.56,-8.38,-8.20,-8.02,-7.84,-7.66,-7.48,-7.30]],
[-0.5,[-9.01,-8.83,-8.65,-8.47,-8.29,-8.11,-7.93,-7.75,-7.57,-7.39,-7.21]],
[-1.0,[-8.92,-8.74,-8.56,-8.38,-8.20,-8.02,-7.84,-7.66,-7.48]],
[-1.5,[-8.83,-8.65,-8.47,-8.29,-8.11,-7.93,-7.75,-7.57]],
[-2.0,[-8.74,-8.56,-8.38,-8.20,-8.02,-7.84]],
[-2.5,[-8.65,-8.47,-8.29,-8.11,-7.93,-7.75]],
[-3.0,[-8.56,-8.38,-8.20,-8.02]],
[-3.5,[-8.47,-8.29,-8.11]]];
const dFit = [[-11.11,7.98],[-0.79,5.19]];
const dOne = [[-12,-12],[0,0]];

// ---------- texts ----------
const panelLetters = ['(a)','(b)','(c)','(d)'];
const rValues = ['0.62','0.75','0.61','0.07'];
const pText = '0.05';
const xNames = ['MJ79  δ{s|18}O (‰)','MJ79 d-excess (‰)','MJ79  δ{s|18}O (‰)','MJ79 d-excess (‰)'];
const yNames = ['Observation δ{s|18}O (‰)','Observation d-excess (‰)','Observation δ{s|18}O (‰)','Observation d-excess (‰)'];

function expand(rows){ const out=[]; rows.forEach(r=>r[1].forEach(x=>out.push([x,r[0]]))); return out; }

const el=document.getElementById('main');
const W=el.clientWidth||window.innerWidth, H=el.clientHeight||window.innerHeight;
const sx=W/7431, sy=H/7420, s=Math.min(sx,sy);
const RED='#FF0000', BLUE='#1E8CFF', BLUE_LINE='#0066CC';
const grids=[[467,93],[4157,93],[467,3799],[4157,3799]].map(p=>({left:p[0]*sx,top:p[1]*sy,width:3162*sx,height:3160*sy,show:true,borderColor:'#000',borderWidth:5*s,backgroundColor:'transparent'}));
const SERIF='"Liberation Serif","Times New Roman",serif';
const nameStyle={fontFamily:SERIF,fontWeight:'bold',fontSize:150*s,color:'#000',lineHeight:150*s,
  rich:{s:{fontFamily:SERIF,fontWeight:'bold',fontSize:68*s,lineHeight:132*s,verticalAlign:'top',color:'#000'}}};
function axCommon(margin,hideMax){return {axisLine:{show:true,onZero:false,lineStyle:{color:'#000',width:5*s}},axisTick:{show:true,inside:false,length:52*s,lineStyle:{color:'#000',width:5*s}},
  axisLabel:{color:'#000',fontSize:92*s,fontFamily:'Lato',margin:margin*s,showMaxLabel:!hideMax},splitLine:{show:false}};}
function xAx(i,min,max,interval){return Object.assign({type:'value',gridIndex:i,min,max,interval,name:xNames[i],nameLocation:'middle',nameGap:241*s,nameTextStyle:nameStyle},axCommon(122,false));}
function yAx(i,min,max,interval,hideMax){return Object.assign({type:'value',gridIndex:i,min,max,interval,name:yNames[i],nameLocation:'middle',nameGap:262*s,nameTextStyle:nameStyle},axCommon(108,hideMax));}

const pts=[aPts,bPts,cPts.concat(expand(cRows)),dPts.concat(expand(dRows))];
const fits=[aFit,bFit,cFit,dFit], ones=[aOne,bOne,cOne,dOne];
const cols=[RED,BLUE,RED,BLUE], lcols=[RED,BLUE_LINE,RED,BLUE_LINE];
const series=[];
for(let i=0;i<4;i++){
  series.push({type:'line',xAxisIndex:i,yAxisIndex:i,data:ones[i],symbol:'none',silent:true,lineStyle:{color:'#000',width:4*s},z:1});
  series.push({type:'scatter',xAxisIndex:i,yAxisIndex:i,data:pts[i],symbol:'circle',symbolSize:51*s,silent:true,large:false,progressive:0,
    itemStyle:{color:cols[i],borderColor:'#fff',borderWidth:4*s,opacity:1},z:2});
  series.push({type:'line',xAxisIndex:i,yAxisIndex:i,data:fits[i],symbol:'none',silent:true,lineStyle:{color:lcols[i],width:12*s},z:3});
}
const graphic=[];
grids.forEach((g,i)=>{
  graphic.push({type:'text',z:10,style:{text:panelLetters[i],x:g.left+74*s,y:g.top+206*s,align:'left',verticalAlign:'middle',fontFamily:SERIF,fontWeight:'bold',fontSize:176*s,fill:'#000'}});
  const right=g.left+g.width, bottom=g.top+g.height;
  const rich={i:{fontFamily:SERIF,fontWeight:'bold',fontStyle:'italic',fontSize:150*s,fill:'#000'},n:{fontFamily:SERIF,fontWeight:'bold',fontSize:150*s,fill:'#000'}};
  graphic.push({type:'text',z:10,style:{text:'{i|r}{n| = '+rValues[i]+'}',x:right-50*s,y:bottom-246*s,align:'right',verticalAlign:'middle',fontFamily:SERIF,fontWeight:'bold',fontSize:150*s,fill:'#000',rich}});
  graphic.push({type:'text',z:10,style:{text:'{i|p}{n| < '+pText+'}',x:right-36*s,y:bottom-92*s,align:'right',verticalAlign:'middle',fontFamily:SERIF,fontWeight:'bold',fontSize:150*s,fill:'#000',rich}});
});

const chart=echarts.init(el,null,{renderer:'canvas'});
chart.setOption({
  animation:false,backgroundColor:'#fff',
  grid:grids,
  xAxis:[xAx(0,-12,-10,0.5),xAx(1,-12,16,4),xAx(2,-14,-11,0.5),xAx(3,-12,0,2)],
  yAxis:[yAx(0,-22,-10,2),yAx(1,-12,24,4),yAx(2,-36,-10,4,true),yAx(3,-12,24,4)],
  series, graphic
});
</script></body></html>
